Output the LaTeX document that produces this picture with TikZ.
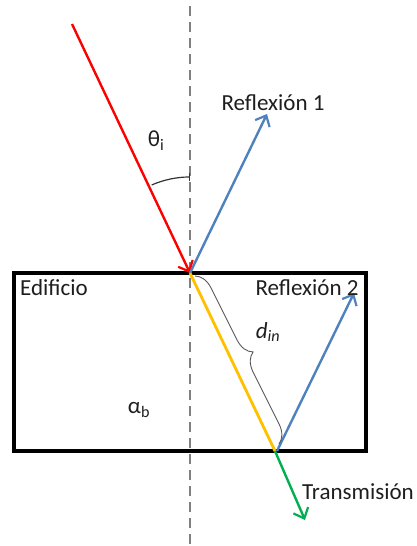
\documentclass[tikz,border=0pt]{standalone}
\usepackage{fontspec}
\setmainfont{Carlito}
\usetikzlibrary{arrows.meta,decorations.pathreplacing,calc}
\definecolor{rayred}{RGB}{255,0,0}
\definecolor{rayblue}{RGB}{79,129,189}
\definecolor{rayyellow}{RGB}{255,192,0}
\definecolor{raygreen}{RGB}{0,176,80}
\definecolor{axisgray}{RGB}{128,128,128}
\definecolor{txt}{RGB}{30,30,30}
\tikzset{
  ray/.style={line width=2.4pt,-{Straight Barb[length=9pt,width=16pt,line width=2.2pt]}},
  lbl/.style={text=txt,font=\fontsize{23}{27}\selectfont,inner sep=0pt},
}
\begin{document}
\begin{tikzpicture}[x=1pt,y=1pt]
\useasboundingbox (0,0) rectangle (416,-546);
% coordinates
\coordinate (top) at (190,-6);
\coordinate (bot) at (190,-546);
\coordinate (src) at (72,-24);
\coordinate (P) at (190,-273);
\coordinate (R1) at (267,-114);
\coordinate (B) at (275,-451);
\coordinate (B2) at (277,-451);
\coordinate (R2) at (354,-293);
\coordinate (T) at (305,-520);
\coordinate (br1) at (195,-276);
\coordinate (br2) at (279,-444);
% dashed normal
\draw[axisgray,line width=2.4pt,dash pattern=on 10pt off 6pt] (top) -- (bot);
% building
\draw[line width=3.4pt] (14,-273) rectangle (366,-451);
% rays
\draw[ray,rayred] (src) -- (P);
\draw[ray,rayblue] (P) -- (R1);
\draw[ray,raygreen] (B) -- (T);
\draw[rayyellow,line width=2.8pt] (P) -- (B);
\draw[ray,rayblue] (B2) -- (R2);
% angle arc
\draw[line width=1.2pt,black!80,{Bar[width=8pt]}-] ($(P)+(90:96pt)$) arc[start angle=90,end angle=113.5,radius=96pt];
% brace
\draw[black!65,line width=0.9pt,decorate,decoration={brace,amplitude=18pt}] (br1) -- (br2);
% labels
\node[lbl] (r1lbl) at (273,-103) {Reflexión 1};
\node[lbl] (theta) at (156,-141) {θ\textsubscript{i}};
\node[lbl,anchor=west] (edif) at (20,-288) {Edificio};
\node[lbl] (r2lbl) at (307,-288) {Reflexión 2};
\node[lbl] (din) at (268,-332) {\textit{d\textsubscript{in}}};
\node[lbl] (alpha) at (139,-410) {α\textsubscript{b}};
\node[lbl,anchor=west] (trans) at (302,-492) {Transmisión};
\end{tikzpicture}
\end{document}
